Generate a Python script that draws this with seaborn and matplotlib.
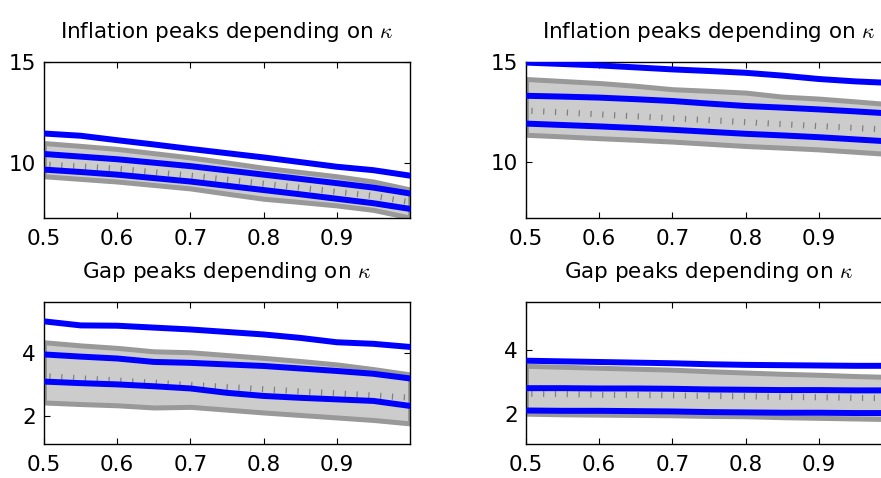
import matplotlib
matplotlib.use('Agg')
import matplotlib.pyplot as plt
from matplotlib import patheffects as pe
import seaborn as sns

sns.set_style('ticks')
plt.rcParams['font.family'] = ['DejaVu Sans']
plt.rcParams['mathtext.fontset'] = 'cm'

kappa = [0.5, 0.55, 0.6, 0.65, 0.7, 0.75, 0.8, 0.85, 0.9, 0.95, 1.0]

# inflation, left panel
infl_l_blue_hi = [11.47, 11.36, 11.14, 10.93, 10.71, 10.50, 10.29, 10.06, 9.83, 9.66, 9.39]
infl_l_band_hi = [11.00, 10.86, 10.71, 10.50, 10.29, 10.04, 9.78, 9.57, 9.36, 9.10, 8.71]
infl_l_blue_mid = [10.46, 10.33, 10.20, 10.03, 9.86, 9.65, 9.44, 9.23, 9.02, 8.80, 8.51]
infl_l_median = [9.95, 9.85, 9.74, 9.57, 9.40, 9.20, 9.00, 8.80, 8.60, 8.40, 8.08]
infl_l_blue_lo = [9.69, 9.57, 9.44, 9.27, 9.10, 8.89, 8.68, 8.47, 8.25, 8.03, 7.75]
infl_l_band_lo = [9.36, 9.23, 9.10, 8.93, 8.76, 8.50, 8.25, 8.09, 7.92, 7.70, 7.32]

# inflation, right panel
infl_r_blue_hi = [14.97, 14.90, 14.83, 14.73, 14.63, 14.55, 14.46, 14.32, 14.15, 14.03, 13.95]
infl_r_band_hi = [14.15, 14.05, 13.95, 13.81, 13.64, 13.56, 13.47, 13.27, 13.17, 13.03, 12.88]
infl_r_blue_mid = [13.31, 13.27, 13.22, 13.14, 13.05, 12.92, 12.80, 12.72, 12.63, 12.53, 12.42]
infl_r_median = [12.58, 12.49, 12.39, 12.29, 12.19, 12.10, 12.00, 11.90, 11.80, 11.71, 11.61]
infl_r_blue_lo = [11.92, 11.85, 11.78, 11.70, 11.61, 11.51, 11.41, 11.33, 11.24, 11.13, 11.02]
infl_r_band_lo = [11.36, 11.28, 11.19, 11.11, 11.02, 10.91, 10.80, 10.72, 10.63, 10.51, 10.39]

# output gap, left panel
gap_l_blue_hi = [5.03, 4.90, 4.89, 4.83, 4.77, 4.69, 4.61, 4.50, 4.36, 4.31, 4.21]
gap_l_band_hi = [4.36, 4.26, 4.18, 4.07, 4.04, 3.95, 3.86, 3.76, 3.65, 3.50, 3.33]
gap_l_blue_mid = [3.97, 3.90, 3.84, 3.73, 3.70, 3.65, 3.60, 3.52, 3.44, 3.35, 3.20]
gap_l_median = [3.28, 3.21, 3.14, 3.07, 3.00, 2.93, 2.86, 2.79, 2.73, 2.66, 2.59]
gap_l_blue_lo = [3.10, 3.05, 3.01, 2.95, 2.88, 2.74, 2.64, 2.58, 2.53, 2.48, 2.32]
gap_l_band_lo = [2.43, 2.38, 2.34, 2.27, 2.29, 2.20, 2.11, 2.03, 1.95, 1.87, 1.76]

# output gap, right panel
gap_r_blue_hi = [3.66, 3.64, 3.62, 3.60, 3.58, 3.55, 3.53, 3.52, 3.51, 3.50, 3.50]
gap_r_band_hi = [3.50, 3.47, 3.44, 3.41, 3.38, 3.33, 3.29, 3.25, 3.22, 3.18, 3.15]
gap_r_blue_mid = [2.80, 2.80, 2.79, 2.79, 2.78, 2.76, 2.75, 2.74, 2.74, 2.73, 2.73]
gap_r_median = [2.63, 2.62, 2.60, 2.59, 2.58, 2.56, 2.55, 2.53, 2.52, 2.50, 2.49]
gap_r_blue_lo = [2.10, 2.09, 2.09, 2.08, 2.07, 2.05, 2.04, 2.03, 2.03, 2.02, 2.02]
gap_r_band_lo = [2.00, 1.98, 1.97, 1.96, 1.95, 1.93, 1.92, 1.89, 1.87, 1.85, 1.83]

x_ticks = [0.5, 0.6, 0.7, 0.8, 0.9]
x_tick_labels = ['0.5', '0.6', '0.7', '0.8', '0.9']
infl_title = r'Inflation peaks depending on $\kappa$'
gap_title = r'Gap peaks depending on $\kappa$'

W, H = 881, 478
fig = plt.figure(figsize=(W / 100, H / 100), dpi=100)


def make_ax(left, top, width, height):
    return fig.add_axes([left / W, 1 - (top + height) / H, width / W, height / H])


def draw_panel(ax, band_lo, band_hi, median, blue_lo, blue_mid, blue_hi,
               title, ylim, yticks):
    ax.fill_between(kappa, band_lo, band_hi, facecolor='#cccccc',
                    edgecolor='#999999', linewidth=3.6, zorder=1)
    sns.lineplot(x=kappa, y=median, ax=ax, color='#777777', linewidth=1,
                 zorder=2,
                 path_effects=[pe.TickedStroke(offset=(0, -2), spacing=8.4, angle=90,
                                               length=0.45, linewidth=0.9,
                                               foreground='#808080')])
    for vals in (blue_hi, blue_mid, blue_lo):
        sns.lineplot(x=kappa, y=vals, ax=ax, color='#0000ff', linewidth=4.3,
                     zorder=3)
    ax.set_xlim(0.5, 1.0)
    ax.set_ylim(*ylim)
    ax.set_xticks(x_ticks)
    ax.set_xticklabels(x_tick_labels)
    ax.set_yticks(yticks)
    ax.set_yticklabels([str(t) for t in yticks])
    ax.tick_params(direction='in', top=True, right=True, length=4, width=0.8,
                   labelsize=15.5, colors='black')
    ax.tick_params(axis='x', pad=8)
    ax.tick_params(axis='y', pad=6)
    for sp in ax.spines.values():
        sp.set_visible(True)
        sp.set_linewidth(1.0)
        sp.set_color('black')
    ax.set_title(title, fontsize=15.5, pad=17, color='black')


ax_tl = make_ax(44, 62, 366, 156)
ax_tr = make_ax(526, 62, 366, 156)
ax_bl = make_ax(44, 302, 366, 142)
ax_br = make_ax(526, 302, 366, 142)

draw_panel(ax_tl, infl_l_band_lo, infl_l_band_hi, infl_l_median, infl_l_blue_lo,
           infl_l_blue_mid, infl_l_blue_hi, infl_title, (7.3, 15), [10, 15])
draw_panel(ax_tr, infl_r_band_lo, infl_r_band_hi, infl_r_median, infl_r_blue_lo,
           infl_r_blue_mid, infl_r_blue_hi, infl_title, (7.2, 15), [10, 15])
draw_panel(ax_bl, gap_l_band_lo, gap_l_band_hi, gap_l_median, gap_l_blue_lo,
           gap_l_blue_mid, gap_l_blue_hi, gap_title, (1.1, 5.65), [2, 4])
draw_panel(ax_br, gap_r_band_lo, gap_r_band_hi, gap_r_median, gap_r_blue_lo,
           gap_r_blue_mid, gap_r_blue_hi, gap_title, (1.05, 5.5), [2, 4])

fig.savefig('out.png', dpi=100)
